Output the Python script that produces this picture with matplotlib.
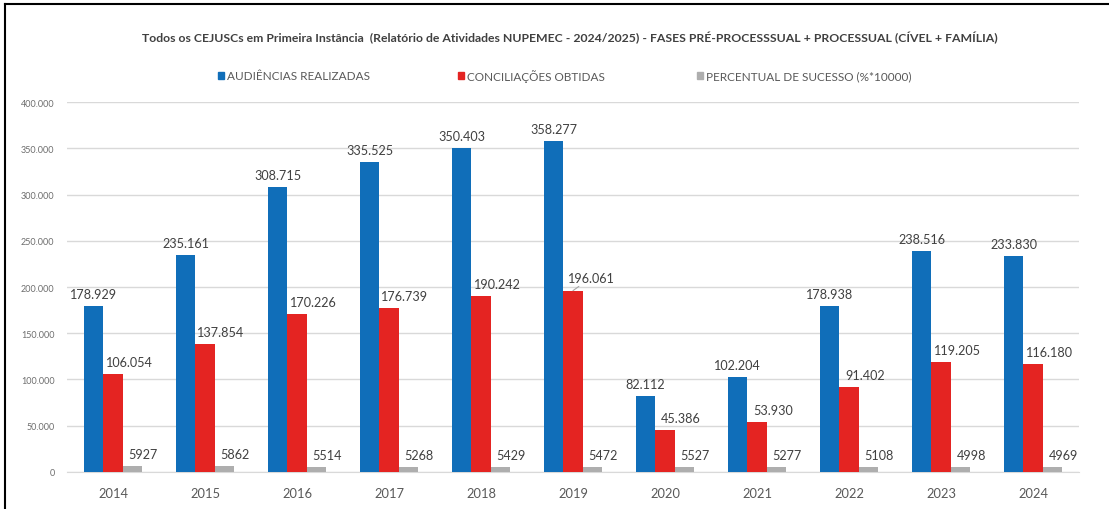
import matplotlib
matplotlib.use("Agg")
import matplotlib.pyplot as plt
from matplotlib.patches import Rectangle
from matplotlib.lines import Line2D
import numpy as np

plt.rcParams['font.family'] = ['Lato', 'DejaVu Sans']

years = ["2014", "2015", "2016", "2017", "2018", "2019", "2020", "2021", "2022", "2023", "2024"]
audiencias = [178929, 235161, 308715, 335525, 350403, 358277, 82112, 102204, 178938, 238516, 233830]
conciliacoes = [106054, 137854, 170226, 176739, 190242, 196061, 45386, 53930, 91402, 119205, 116180]
percentual = [5927, 5862, 5514, 5268, 5429, 5472, 5527, 5277, 5108, 4998, 4969]

series_names = ["AUDIÊNCIAS REALIZADAS", "CONCILIAÇÕES OBTIDAS", "PERCENTUAL DE SUCESSO (%*10000)"]
colors = ["#106EB9", "#E42422", "#AEAEAE"]

title = ("Todos os CEJUSCs em Primeira Instância  (Relatório de Atividades NUPEMEC - 2024/2025) "
         "- FASES PRÉ-PROCESSSUAL + PROCESSUAL (CÍVEL + FAMÍLIA)")

W, H = 1109, 510
fig = plt.figure(figsize=(W / 100, H / 100), dpi=100)
ax = fig.add_axes([67 / W, 1 - 472.7 / H, 1012 / W, 369.4 / H])

x = np.arange(len(years))
bw = 0.21
offsets = [-bw, 0, bw]
data = [audiencias, conciliacoes, percentual]

def fmt_dot(v):
    return f"{v:,}".replace(",", ".")

label_dx = [0, 16, 11]  # horizontal label nudge, pixels
px = 0.72  # points per pixel at 100 dpi

for i, (vals, col) in enumerate(zip(data, colors)):
    bars = ax.bar(x + offsets[i], vals, width=bw, color=col, zorder=3, linewidth=0)
    for j, (b, v) in enumerate(zip(bars, vals)):
        txt = fmt_dot(v) if i < 2 else str(v)
        cx = b.get_x() + b.get_width() / 2
        if i == 1 and years[j] == "2019":
            ax.annotate(txt, xy=(cx, v), xytext=(18 * px, 13 * px), textcoords="offset points",
                        ha="center", va="center", fontsize=9.1, color="#404040",
                        arrowprops=dict(arrowstyle="-", color="#A6A6A6", lw=0.8,
                                        shrinkA=6, shrinkB=0))
        else:
            ax.annotate(txt, xy=(cx, v), xytext=(label_dx[i] * px, 12 * px),
                        textcoords="offset points", ha="center", va="center",
                        fontsize=9.1, color="#404040")

ax.set_xlim(-0.5, len(years) - 0.5)
ax.set_ylim(0, 400000)
ax.set_yticks(np.arange(0, 400001, 50000))
ax.set_yticklabels([fmt_dot(int(t)) for t in np.arange(0, 400001, 50000)])
ax.set_xticks(x)
ax.set_xticklabels(years)
ax.tick_params(axis="y", length=0, labelsize=6.5, labelcolor="#6E6E6E", pad=9)
ax.tick_params(axis="x", length=0, labelsize=9.3, labelcolor="#595959", pad=11)
ax.grid(axis="y", color="#D9D9D9", linewidth=1, zorder=0)
for s in ["top", "right", "left"]:
    ax.spines[s].set_visible(False)
ax.spines["bottom"].set_color("#D9D9D9")
ax.set_facecolor("white")

fig.text(570 / W, 1 - 38 / H, title, ha="center", va="center", fontsize=8.8,
         fontweight="bold", color="#404040")

legend_x = [218, 458, 697]
for lx, name, col in zip(legend_x, series_names, colors):
    fig.add_artist(Rectangle((lx / W, 1 - 80 / H), 6 / W, 7 / H, color=col,
                             transform=fig.transFigure))
    fig.text((lx + 9) / W, 1 - 76.5 / H, name, ha="left", va="center",
             fontsize=8.5, color="#595959")

fig.add_artist(Line2D([5 / W, 1], [1 - 5 / H, 1 - 5 / H], color="black", lw=1.5,
                      transform=fig.transFigure))
fig.add_artist(Line2D([5 / W, 5 / W], [0, 1 - 5 / H], color="black", lw=1.5,
                      transform=fig.transFigure))

fig.savefig("out.png", dpi=100)
